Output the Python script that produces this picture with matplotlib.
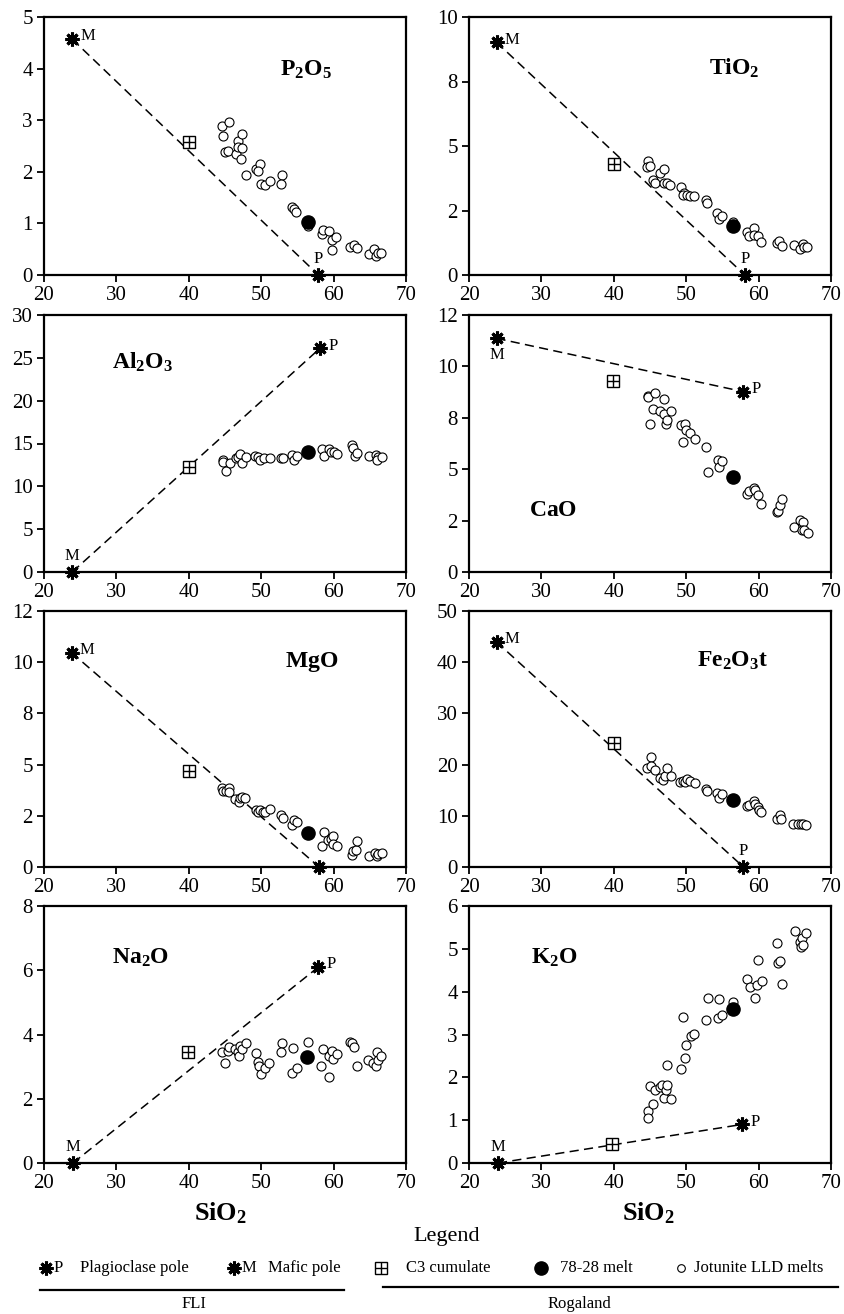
import matplotlib
matplotlib.use("Agg")
import matplotlib.pyplot as plt
from matplotlib.lines import Line2D
import numpy as np

plt.rcParams['font.family'] = ['Liberation Serif', 'DejaVu Serif']
plt.rcParams['mathtext.fontset'] = 'custom'
plt.rcParams['mathtext.rm'] = 'Liberation Serif'
plt.rcParams['mathtext.bf'] = 'Liberation Serif:bold'
plt.rcParams['mathtext.it'] = 'Liberation Serif:italic'

# ---------------- data ----------------
OXIDE_LABELS = [r'$\mathbf{P_2O_5}$', r'$\mathbf{TiO_2}$', r'$\mathbf{Al_2O_3}$', r'$\mathbf{CaO}$',
                r'$\mathbf{MgO}$', r'$\mathbf{Fe_2O_3t}$', r'$\mathbf{Na_2O}$', r'$\mathbf{K_2O}$']

MAFIC_SIO2 = [23.9, 23.8, 23.9, 23.8, 23.8, 23.8, 24.0, 24.0]
MAFIC_VAL = [4.57, 9.02, 0.0, 10.91, 10.05, 43.96, 0.0, 0.0]
PLAG_SIO2 = [57.9, 58.1, 58.1, 57.9, 58.0, 57.9, 57.9, 57.7]
PLAG_VAL = [0.0, 0.0, 26.1, 8.42, 0.0, 0.0, 6.10, 0.90]
C3_SIO2 = [40.0, 40.0, 40.0, 39.9, 40.0, 40.0, 39.9, 39.8]
C3_VAL = [2.57, 4.30, 12.27, 8.91, 4.52, 24.2, 3.47, 0.44]
MELT_SIO2 = [56.4, 56.4, 56.5, 56.4, 56.5, 56.4, 56.3, 56.4]
MELT_VAL = [1.03, 1.88, 13.95, 4.44, 1.59, 12.99, 3.29, 3.59]

p2o5_sio2 = [44.6, 45.6, 44.7, 45.0, 45.4, 46.5, 46.8, 47.3, 46.8, 47.3, 47.2, 47.9, 49.3, 49.9, 49.6,
             50.0, 50.5, 51.2, 52.9, 52.8, 54.3, 54.5, 54.8, 56.4, 58.4, 58.6, 59.3, 59.8, 60.4, 59.8,
             62.3, 62.8, 63.2, 64.9, 65.6, 65.9, 66.1, 66.6]
p2o5_val = [2.88, 2.97, 2.70, 2.39, 2.41, 2.35, 2.59, 2.73, 2.49, 2.47, 2.25, 1.94, 2.05, 2.15, 2.02,
            1.76, 1.75, 1.82, 1.94, 1.76, 1.31, 1.27, 1.22, 0.94, 0.80, 0.87, 0.85, 0.68, 0.74, 0.49,
            0.54, 0.58, 0.52, 0.41, 0.50, 0.37, 0.43, 0.43]

tio2_sio2 = [44.7, 44.6, 45.0, 45.4, 45.7, 46.4, 46.9, 47.0, 47.4, 47.8, 49.3, 49.7, 49.6, 50.1, 50.5,
             51.1, 52.7, 52.9, 54.3, 54.5, 55.0, 56.4, 58.4, 58.7, 59.4, 59.4, 59.9, 60.4, 62.6, 62.8,
             63.3, 64.9, 65.7, 66.1, 66.3, 66.7]
tio2_val = [4.40, 4.20, 4.23, 3.69, 3.56, 3.95, 4.11, 3.58, 3.58, 3.48, 3.42, 3.17, 3.10, 3.10, 3.07,
            3.07, 2.91, 2.78, 2.39, 2.16, 2.29, 2.07, 1.66, 1.51, 1.81, 1.55, 1.51, 1.29, 1.25, 1.33,
            1.13, 1.15, 1.00, 1.20, 1.10, 1.07]

al2o3_sio2 = [44.7, 44.7, 45.1, 45.7, 46.5, 46.8, 47.1, 47.4, 47.9, 49.2, 49.5, 49.9, 50.4, 51.2, 52.8,
              53.0, 54.3, 54.5, 54.9, 58.4, 58.7, 59.3, 59.7, 60.1, 60.5, 62.5, 62.7, 63.0, 63.3, 64.9,
              65.8, 66.1, 66.0, 66.7]
al2o3_val = [13.13, 12.82, 11.76, 12.78, 13.25, 13.44, 13.75, 12.78, 13.44, 13.56, 13.44, 13.13, 13.25,
             13.25, 13.32, 13.25, 13.71, 13.13, 13.56, 14.34, 13.56, 14.34, 13.95, 13.95, 13.75, 14.88,
             14.49, 13.56, 13.91, 13.56, 13.63, 13.44, 13.13, 13.44]

cao_sio2 = [44.7, 44.7, 45.7, 45.0, 45.4, 46.4, 46.9, 47.0, 47.2, 47.3, 47.9, 49.3, 49.9, 50.0, 50.5,
            51.2, 49.6, 52.8, 53.0, 54.4, 54.5, 55.0, 58.4, 58.7, 59.4, 59.5, 59.9, 60.4, 62.6, 62.7,
            63.0, 63.3, 64.9, 65.7, 66.1, 66.0, 66.3, 66.8]
cao_val = [8.24, 8.15, 8.34, 6.90, 7.60, 7.51, 8.10, 7.37, 6.90, 7.12, 7.53, 6.86, 6.89, 6.62, 6.50,
           6.19, 6.08, 5.84, 4.68, 5.22, 4.88, 5.19, 3.66, 3.79, 3.94, 3.82, 3.58, 3.19, 2.80, 2.85,
           3.15, 3.40, 2.10, 2.45, 2.34, 1.98, 1.95, 1.82]

mgo_sio2 = [44.6, 44.7, 45.2, 45.6, 45.5, 46.4, 46.9, 47.1, 47.4, 47.8, 49.3, 49.5, 49.9, 50.2, 50.5,
            51.2, 52.8, 53.0, 54.3, 54.5, 54.9, 58.4, 58.7, 59.2, 59.7, 59.9, 59.9, 60.5, 62.5, 62.7,
            63.1, 63.3, 64.9, 65.7, 66.0, 66.2, 66.7]
mgo_val = [3.69, 3.54, 3.57, 3.72, 3.51, 3.18, 3.04, 3.23, 3.27, 3.23, 2.68, 2.56, 2.65, 2.56, 2.60,
           2.71, 2.45, 2.31, 1.95, 2.18, 2.09, 0.97, 1.64, 1.25, 1.31, 1.43, 1.09, 0.97, 0.58, 0.76,
           0.81, 1.20, 0.53, 0.65, 0.50, 0.61, 0.65]

fe2o3_sio2 = [44.6, 45.1, 45.2, 45.7, 46.4, 46.8, 47.1, 47.3, 47.9, 49.2, 49.6, 49.8, 50.1, 50.5, 51.2,
              52.7, 52.9, 54.2, 54.5, 54.9, 58.4, 58.7, 59.3, 59.5, 59.9, 60.1, 60.4, 62.5, 62.9, 63.1,
              64.8, 65.5, 65.9, 66.1, 66.5]
fe2o3_val = [19.35, 21.43, 19.81, 19.03, 17.40, 17.08, 17.73, 19.35, 17.86, 16.56, 16.75, 16.56, 17.21,
             16.88, 16.36, 15.26, 14.81, 14.42, 13.51, 14.29, 11.88, 12.14, 12.86, 12.34, 11.69, 11.04,
             10.71, 9.42, 10.19, 9.42, 8.44, 8.44, 8.31, 8.44, 8.25]

na2o_sio2 = [44.6, 45.0, 45.4, 45.6, 46.4, 46.8, 46.9, 47.1, 47.3, 47.9, 49.3, 49.5, 49.7, 50.0, 50.5,
             51.1, 52.9, 52.7, 54.4, 54.3, 54.9, 56.4, 58.6, 58.3, 59.3, 59.4, 59.8, 59.9, 60.5, 62.3,
             62.5, 62.8, 63.2, 64.8, 65.5, 65.9, 66.0, 66.1, 66.6]
na2o_val = [3.46, 3.11, 3.48, 3.62, 3.55, 3.44, 3.32, 3.65, 3.55, 3.72, 3.42, 3.13, 3.03, 2.77, 2.96,
            3.10, 3.72, 3.46, 3.58, 2.80, 2.95, 3.77, 3.55, 3.01, 2.67, 3.34, 3.50, 3.24, 3.39, 3.77,
            3.72, 3.60, 3.01, 3.21, 3.10, 3.03, 3.44, 3.21, 3.34]

k2o_sio2 = [44.7, 44.7, 45.4, 45.0, 45.7, 46.4, 46.7, 46.9, 47.2, 47.3, 47.3, 47.9, 49.3, 49.5, 49.8,
            50.0, 50.6, 51.1, 52.7, 53.0, 54.4, 54.5, 54.9, 56.4, 58.4, 58.8, 59.5, 59.8, 59.9, 60.5,
            62.6, 62.7, 63.0, 63.3, 65.0, 65.7, 65.8, 66.0, 66.1, 66.6]
k2o_val = [1.21, 1.04, 1.37, 1.80, 1.70, 1.78, 1.82, 1.51, 1.70, 1.82, 2.29, 1.49, 2.20, 3.41, 2.46,
           2.75, 2.96, 3.02, 3.33, 3.86, 3.38, 3.84, 3.46, 3.76, 4.30, 4.11, 3.86, 4.16, 4.73, 4.24,
           5.13, 4.67, 4.72, 4.17, 5.42, 5.16, 5.04, 5.25, 5.10, 5.36]

JOT_SIO2 = [p2o5_sio2, tio2_sio2, al2o3_sio2, cao_sio2, mgo_sio2, fe2o3_sio2, na2o_sio2, k2o_sio2]
JOT_VAL = [p2o5_val, tio2_val, al2o3_val, cao_val, mgo_val, fe2o3_val, na2o_val, k2o_val]

Y_MAX = [5, 10, 30, 12, 12, 50, 8, 6]
Y_TICKS = [[0, 1, 2, 3, 4, 5], [0, 2.5, 5, 7.5, 10], [0, 5, 10, 15, 20, 25, 30],
           [0, 2.4, 4.8, 7.2, 9.6, 12], [0, 2.4, 4.8, 7.2, 9.6, 12], [0, 10, 20, 30, 40, 50],
           [0, 2, 4, 6, 8], [0, 1, 2, 3, 4, 5, 6]]
Y_TICKLABELS = [["0", "1", "2", "3", "4", "5"], ["0", "2", "5", "8", "10"],
                ["0", "5", "10", "15", "20", "25", "30"], ["0", "2", "5", "8", "10", "12"],
                ["0", "2", "5", "8", "10", "12"], ["0", "10", "20", "30", "40", "50"],
                ["0", "2", "4", "6", "8"], ["0", "1", "2", "3", "4", "5", "6"]]
X_TICKS = [20, 30, 40, 50, 60, 70]

# ---------------- layout ----------------
W, H = 844, 1314
fig = plt.figure(figsize=(W / 100, H / 100), dpi=100)

cols = [(44, 406), (469, 831)]
rows = [(17, 275), (315, 572), (611, 867), (906, 1163)]

# label placement (axes fraction), pole label positions
LABEL_POS = [(0.724, 0.796), (0.732, 0.802), (0.272, 0.817), (0.232, 0.24),
             (0.74, 0.80), (0.728, 0.806), (0.266, 0.799), (0.236, 0.798)]
M_SIDE = ['right', 'right', 'above', 'below', 'right', 'right', 'above', 'above']
P_SIDE = ['above', 'above', 'right', 'right', None, 'above', 'right', 'right']

OFFS = {'right': (6, 2, 'left', 'center'), 'above': (0, 6, 'center', 'bottom'),
        'below': (0, -6, 'center', 'top')}


def star(ax, x, y):
    ax.plot([x], [y], linestyle='none', marker=(8, 2, 0), ms=10, mew=2.2, color='black',
            clip_on=False, zorder=6)


def cumulate(ax, x, y, transform=None):
    kw = {} if transform is None else {'transform': transform}
    ax.plot([x], [y], linestyle='none', marker='s', ms=8, mfc='white', mec='black', mew=1.0,
            clip_on=False, zorder=5, **kw)
    ax.plot([x], [y], linestyle='none', marker='+', ms=8, mec='black', mew=1.0,
            clip_on=False, zorder=5, **kw)


for i in range(8):
    r, c = divmod(i, 2)
    (xl, xr), (yt, yb) = cols[c], rows[r]
    ax = fig.add_axes([xl / W, 1 - yb / H, (xr - xl) / W, (yb - yt) / H])
    ax.set_xlim(20, 70)
    ax.set_ylim(0, Y_MAX[i])
    ax.set_xticks(X_TICKS)
    ax.set_yticks(Y_TICKS[i])
    ax.set_yticklabels(Y_TICKLABELS[i])
    for s in ax.spines.values():
        s.set_linewidth(1.6)
    ax.tick_params(direction='out', length=5, width=1.3, labelsize=15, pad=3)

    # tie line
    ax.plot([MAFIC_SIO2[i], PLAG_SIO2[i]], [MAFIC_VAL[i], PLAG_VAL[i]], color='black',
            lw=1.1, linestyle=(0, (6, 3.5)), zorder=3, clip_on=False)
    # jotunite melts
    ax.plot(JOT_SIO2[i], JOT_VAL[i], linestyle='none', marker='o', ms=6.5, mfc='white',
            mec='black', mew=0.8, zorder=4)
    # cumulate
    cumulate(ax, C3_SIO2[i], C3_VAL[i])
    # melt
    ax.plot([MELT_SIO2[i]], [MELT_VAL[i]], linestyle='none', marker='o', ms=9.5,
            color='black', zorder=5)
    # poles
    star(ax, MAFIC_SIO2[i], MAFIC_VAL[i])
    star(ax, PLAG_SIO2[i], PLAG_VAL[i])
    for side, txt, x, y in [(M_SIDE[i], 'M', MAFIC_SIO2[i], MAFIC_VAL[i]),
                            (P_SIDE[i], 'P', PLAG_SIO2[i], PLAG_VAL[i])]:
        if side is None:
            continue
        dx, dy, ha, va = OFFS[side]
        ax.annotate(txt, (x, y), xytext=(dx, dy), textcoords='offset points',
                    ha=ha, va=va, fontsize=12, annotation_clip=False)

    ax.text(LABEL_POS[i][0], LABEL_POS[i][1], OXIDE_LABELS[i], transform=ax.transAxes,
            ha='center', va='center', fontsize=17)

# x-axis titles
for xc in (221, 649):
    fig.text(xc / W, 1 - 1213 / H, r'$\mathbf{SiO_2}$', ha='center', va='center', fontsize=19)

# ---------------- legend ----------------
fig.text(447 / W, 1 - 1237 / H, 'Legend', ha='center', va='center', fontsize=16)
ly = 1 - 1268 / H
tf = fig.transFigure


def fig_marker(x, **kw):
    fig.add_artist(Line2D([x / W], [ly], transform=tf, linestyle='none', **kw))


fig_marker(46, marker=(8, 2, 0), ms=10, mew=2.2, color='black')
fig.text(54 / W, ly, 'P', ha='left', va='center', fontsize=12)
fig.text(80 / W, ly, 'Plagioclase pole', ha='left', va='center', fontsize=12)
fig_marker(234, marker=(8, 2, 0), ms=10, mew=2.2, color='black')
fig.text(242 / W, ly, 'M', ha='left', va='center', fontsize=12)
fig.text(268 / W, ly, 'Mafic pole', ha='left', va='center', fontsize=12)
fig_marker(381, marker='s', ms=8, mfc='white', mec='black', mew=1.0)
fig_marker(381, marker='+', ms=8, mec='black', mew=1.0)
fig.text(406 / W, ly, 'C3 cumulate', ha='left', va='center', fontsize=12)
fig_marker(541, marker='o', ms=9.5, color='black')
fig.text(560 / W, ly, '78-28 melt', ha='left', va='center', fontsize=12)
fig_marker(681, marker='o', ms=5.5, mfc='white', mec='black', mew=0.8)
fig.text(694 / W, ly, 'Jotunite LLD melts', ha='left', va='center', fontsize=12)

fig.add_artist(Line2D([40 / W, 344 / W], [1 - 1290 / H] * 2, transform=tf, color='black', lw=1.6))
fig.add_artist(Line2D([383 / W, 838 / W], [1 - 1287 / H] * 2, transform=tf, color='black', lw=1.6))
fig.text(194 / W, 1 - 1304 / H, 'FLI', ha='center', va='center', fontsize=12)
fig.text(579 / W, 1 - 1304 / H, 'Rogaland', ha='center', va='center', fontsize=12)

fig.savefig('out.png', dpi=100)
